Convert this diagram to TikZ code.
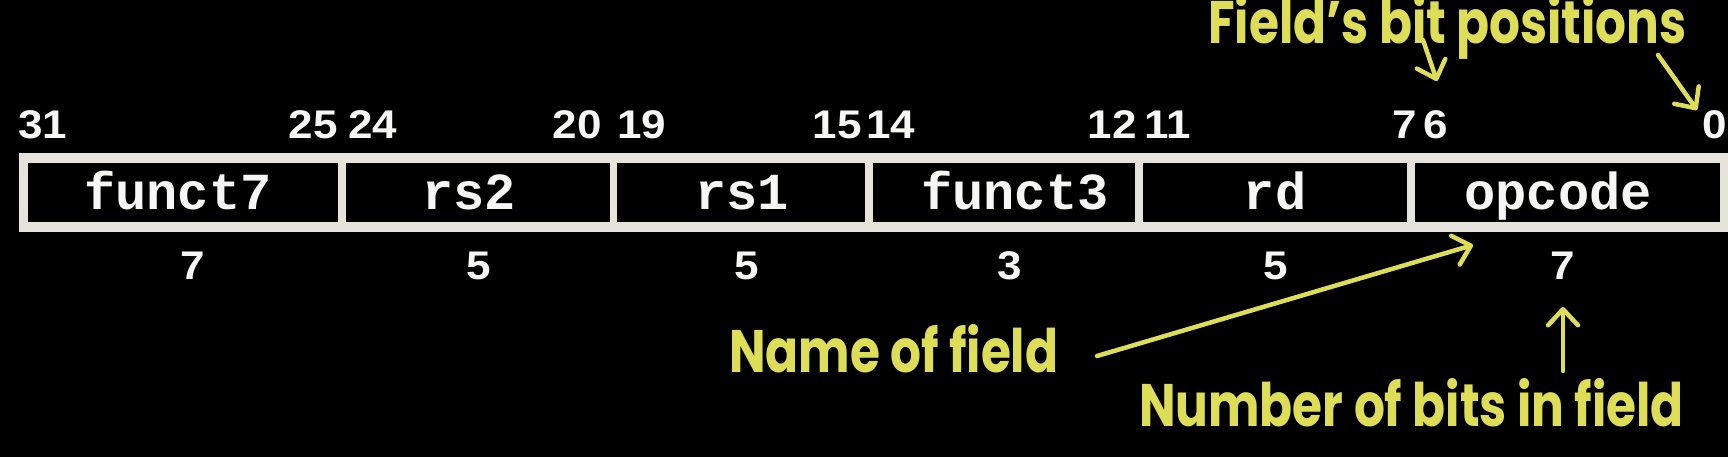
\documentclass[tikz,border=0pt]{standalone}
\usepackage{fontspec}
\usetikzlibrary{arrows.meta}
\newfontfamily\namefont{Liberation Mono Bold}
\newfontfamily\numfont{Liberation Sans Bold}[FakeStretch=1.1]
\newfontfamily\yfont{Poppins}[FakeStretch=0.81]
\definecolor{yel}{RGB}{222,221,88}
\definecolor{txtw}{RGB}{246,246,244}
\definecolor{framec}{RGB}{230,228,218}
\begin{document}
\begin{tikzpicture}[x=1pt,y=-1pt,
  cell/.style={draw=none, fill=black, inner sep=0pt, anchor=north west, minimum height=59pt},
  fname/.style={text=txtw, font=\namefont\fontsize{52}{60}\selectfont, anchor=base, inner sep=0pt},
  bitnum/.style={text=txtw, font=\numfont\fontsize{40}{46}\selectfont, inner sep=0pt},
  ylab/.style={text=yel, font=\yfont\bfseries\fontsize{60}{68}\selectfont, anchor=base west, inner sep=0pt},
  yarr/.style={draw=yel, line width=4.5pt, line cap=round, -{Straight Barb[round,length=16pt,width=30pt]}}]
\useasboundingbox (0,0) rectangle (1728,456);
\fill[black] (-4,-4) rectangle (1732,460);
% frame
\node[fill=framec, inner sep=0pt, anchor=north west, minimum width=1715pt, minimum height=79pt] (frame) at (19,153) {};
% cells
\node[cell, minimum width=310pt] (c1) at (28,163) {};
\node[cell, minimum width=264pt] (c2) at (346,163) {};
\node[cell, minimum width=248pt] (c3) at (617,163) {};
\node[cell, minimum width=262pt] (c4) at (873,163) {};
\node[cell, minimum width=264pt] (c5) at (1143,163) {};
\node[cell, minimum width=305pt] (c6) at (1415,163) {};
% field names
\node[fname] (n1) at (178,209) {funct7};
\node[fname] (n2) at (469,209) {rs2};
\node[fname] (n3) at (742,209) {rs1};
\node[fname] (n4) at (1015,209) {funct3};
\node[fname] (n5) at (1275,209) {rd};
\node[fname] (n6) at (1558,209) {opcode};
% bit positions
\node[bitnum, anchor=base west] (b31) at (18,138) {31};
\node[bitnum, anchor=base east] (b25) at (338,138) {25};
\node[bitnum, anchor=base west] (b24) at (348,138) {24};
\node[bitnum, anchor=base east] (b20) at (602,138) {20};
\node[bitnum, anchor=base west] (b19) at (617,138) {19};
\node[bitnum, anchor=base east] (b15) at (862,138) {15};
\node[bitnum, anchor=base west] (b14) at (866,138) {14};
\node[bitnum, anchor=base east] (b12) at (1137,138) {12};
\node[bitnum, anchor=base west] (b11) at (1144,138) {11};
\node[bitnum, anchor=base east] (b7) at (1417,138) {7};
\node[bitnum, anchor=base west] (b6) at (1423,138) {6};
\node[bitnum, anchor=base east] (b0) at (1727,138) {0};
% widths
\node[bitnum, anchor=base] (w1) at (193,279) {7};
\node[bitnum, anchor=base] (w2) at (479,279) {5};
\node[bitnum, anchor=base] (w3) at (747,279) {5};
\node[bitnum, anchor=base] (w4) at (1010,279) {3};
\node[bitnum, anchor=base] (w5) at (1276,279) {5};
\node[bitnum, anchor=base] (w6) at (1563,279) {7};
% yellow labels
\node[ylab] (lpos) at (1208,43) {Field’s bit positions};
\node[ylab] (lname) at (729,372) {Name of field};
\node[ylab] (lnum) at (1139,426) {Number of bits in field};
% arrow end points
\coordinate (a1s) at (1423,40);
\coordinate (a1e) at (1437,81);
\coordinate (a2s) at (1658,55);
\coordinate (a2e) at (1697,110);
\coordinate (a3s) at (1097,356);
\coordinate (a3e) at (1473,245);
\coordinate (a4s) at (1563,371);
\coordinate (a4e) at (1563,307);
\draw[yarr] (a1s) -- (a1e);
\draw[yarr] (a2s) -- (a2e);
\draw[yarr] (a3s) -- (a3e);
\draw[yarr] (a4s) -- (a4e);
\end{tikzpicture}
\end{document}
